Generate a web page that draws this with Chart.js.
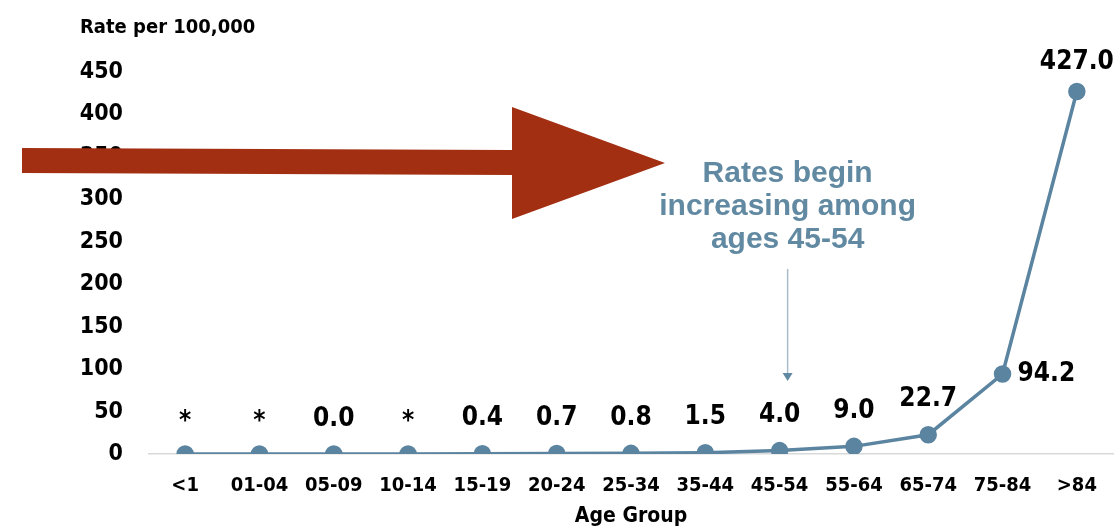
<!DOCTYPE html>
<html>
<head>
<meta charset="utf-8">
<script src="https://cdn.jsdelivr.net/npm/chart.js@4.4.1/dist/chart.umd.min.js"></script>
<style>
  html, body { margin: 0; padding: 0; background: #ffffff; }
  #wrap { width: 1114px; height: 527px; }
</style>
</head>
<body>
<div id="wrap"><canvas id="rateChart"></canvas></div>
<script>
// Grupos de edad y tasas por 100.000 (null = dato suprimido, se muestra "*")
const ageGroups = ['<1', '01-04', '05-09', '10-14', '15-19', '20-24', '25-34', '35-44', '45-54', '55-64', '65-74', '75-84', '>84'];
const rates = [null, null, 0.0, null, 0.4, 0.7, 0.8, 1.5, 4.0, 9.0, 22.7, 94.2, 427.0];
const yTicks = [0, 50, 100, 150, 200, 250, 300, 350, 400, 450];

const condensed = "'Liberation Sans Narrow', 'DejaVu Sans Condensed', 'Roboto', sans-serif";
const lineColor = '#5b84a0';
const noteColor = '#6189a2';

// Etiquetas de valor encima de cada punto (la de 75-84 va a la derecha)
const valueLabels = {
  id: 'valueLabels',
  afterDatasetsDraw(chart) {
    const ctx = chart.ctx;
    const meta = chart.getDatasetMeta(0);
    ctx.save();
    ctx.fillStyle = '#000000';
    ctx.font = 'bold 26px ' + condensed;
    ctx.textBaseline = 'middle';
    meta.data.forEach((pt, i) => {
      const txt = rates[i] === null ? '*' : rates[i].toFixed(1);
      ctx.textAlign = 'center';
      if (i === 11) {
        ctx.textAlign = 'left';
        ctx.fillText(txt, pt.x + 15, pt.y);
      } else if (i === 12) {
        ctx.fillText(txt, pt.x, pt.y - 29);
      } else if (rates[i] === null) {
        ctx.fillText(txt, pt.x, pt.y - 32);
      } else {
        ctx.fillText(txt, pt.x, pt.y - 35);
      }
    });
    ctx.restore();
  }
};

// Nota "Rates begin increasing..." con flecha fina hacia 45-54
const ageNote = {
  id: 'ageNote',
  afterDatasetsDraw(chart) {
    const ctx = chart.ctx;
    const x = chart.scales.x.getPixelForValue(8) + 8;
    const y = chart.scales.y;
    ctx.save();
    ctx.fillStyle = noteColor;
    ctx.font = 'bold 30px "Liberation Sans", Arial, sans-serif';
    ctx.textAlign = 'center';
    ctx.textBaseline = 'middle';
    ['Rates begin', 'increasing among', 'ages 45-54'].forEach((line, k) => {
      ctx.fillText(line, x, y.getPixelForValue(330) + k * 33);
    });
    const top = y.getPixelForValue(218);
    const bottom = y.getPixelForValue(86);
    ctx.strokeStyle = '#a9bccb';
    ctx.lineWidth = 1.5;
    ctx.beginPath();
    ctx.moveTo(x, top);
    ctx.lineTo(x, bottom - 6);
    ctx.stroke();
    ctx.fillStyle = noteColor;
    ctx.beginPath();
    ctx.moveTo(x - 5, bottom - 8);
    ctx.lineTo(x + 5, bottom - 8);
    ctx.lineTo(x, bottom);
    ctx.closePath();
    ctx.fill();
    ctx.restore();
  }
};

// Flecha roja grande sobre el gráfico
const bigArrow = {
  id: 'bigArrow',
  afterDraw(chart) {
    const ctx = chart.ctx;
    ctx.save();
    ctx.fillStyle = '#a32f12';
    ctx.beginPath();
    ctx.moveTo(22, 148);
    ctx.lineTo(512, 150);
    ctx.lineTo(512, 107);
    ctx.lineTo(665, 163);
    ctx.lineTo(512, 219);
    ctx.lineTo(512, 175);
    ctx.lineTo(22, 173);
    ctx.closePath();
    ctx.fill();
    ctx.restore();
  }
};

new Chart(document.getElementById('rateChart'), {
  type: 'line',
  data: {
    labels: ageGroups,
    datasets: [{
      data: rates.map(v => v === null ? 0 : v),
      borderColor: lineColor,
      backgroundColor: lineColor,
      borderWidth: 3.5,
      pointRadius: 7,
      pointHoverRadius: 7,
      tension: 0,
      fill: false
    }]
  },
  options: {
    responsive: true,
    maintainAspectRatio: false,
    animation: false,
    layout: { autoPadding: false, padding: { left: 80, right: 0, top: 4, bottom: 0 } },
    plugins: {
      legend: { display: false },
      tooltip: { enabled: false },
      title: {
        display: true,
        text: 'Rate per 100,000',
        align: 'start',
        color: '#000000',
        font: { family: condensed, size: 20, weight: 'bold' },
        padding: { top: 12, bottom: 32 }
      }
    },
    scales: {
      x: {
        offset: true,
        afterFit(scale) {
          scale.height = 73;
          scale.paddingRight = 0;
        },
        grid: { display: false, drawTicks: false },
        border: { display: false },
        ticks: {
          color: '#000000',
          padding: 20,
          maxRotation: 0,
          font: { family: condensed, size: 20, weight: 'bold' }
        },
        title: {
          display: true,
          text: 'Age Group',
          color: '#000000',
          font: { family: condensed, size: 21, weight: 'bold', lineHeight: 1.0 },
          padding: { top: 0, bottom: 0 }
        }
      },
      y: {
        min: 0,
        max: 450,
        afterBuildTicks(scale) {
          scale.ticks = yTicks.map(v => ({ value: v }));
        },
        afterFit(scale) { scale.width = 68; },
        grid: {
          drawTicks: false,
          color: ctx => ctx.tick && ctx.tick.value === 0 ? '#d9d9d9' : 'rgba(0,0,0,0)',
          lineWidth: 1.5
        },
        border: { display: false },
        ticks: {
          color: '#000000',
          padding: 25,
          font: { family: condensed, size: 23, weight: 'bold' }
        }
      }
    }
  },
  plugins: [valueLabels, ageNote, bigArrow]
});
</script>
</body>
</html>
